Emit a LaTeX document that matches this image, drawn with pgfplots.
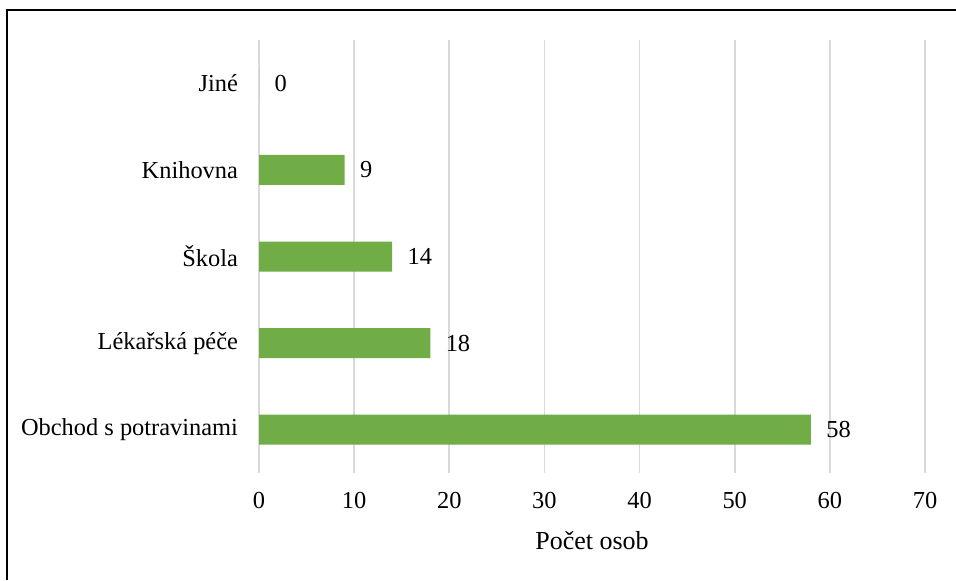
\documentclass[border=0pt]{standalone}
\usepackage{pgfplots}
\pgfplotsset{compat=1.18}
\usepackage{fontspec}
\setmainfont{Liberation Serif}
\definecolor{barG}{HTML}{70AD47}
\definecolor{gridG}{HTML}{D9D9D9}
\begin{document}
\fontsize{12.2}{14}\selectfont
\begin{tikzpicture}
\path[use as bounding box] (0,0) rectangle (478pt,290pt);
\draw[line width=1pt,black] (3.25pt,0) -- (3.25pt,284.75pt) -- (478pt,284.75pt);
\begin{axis}[
  at={(129.5pt,53.5pt)}, anchor=south west,
  scale only axis,
  width=333pt, height=216.5pt,
  xbar, bar width=15pt,
  xmin=0, xmax=70, ymin=-0.5, ymax=4.5,
  xtick={0,10,...,70},
  ytick={0,1,2,3,4},
  yticklabels={Obchod s potravinami, Lékařská péče, Škola, Knihovna, Jiné},
  axis line style={draw=none},
  major tick style={draw=none},
  xmajorgrids, major grid style={gridG, line width=0.9pt},
  /pgf/number format/assume math mode=true,
  tick label style={font=\fontsize{12.2}{14}\selectfont},
  xticklabel style={yshift=-5.5pt},
  yticklabel style={xshift=-2pt},
  label style={font=\fontsize{13}{15}\selectfont},
  xlabel style={yshift=-3pt},
  xlabel={Počet osob},
  nodes near coords,
  every node near coord/.append style={anchor=west, xshift=3.5pt, font=\fontsize{12.2}{14}\selectfont},
]
\addplot[fill=barG, draw=none] coordinates {(58,0) (18,1) (14,2) (9,3) (0,4)};
\end{axis}
\end{tikzpicture}
\end{document}
